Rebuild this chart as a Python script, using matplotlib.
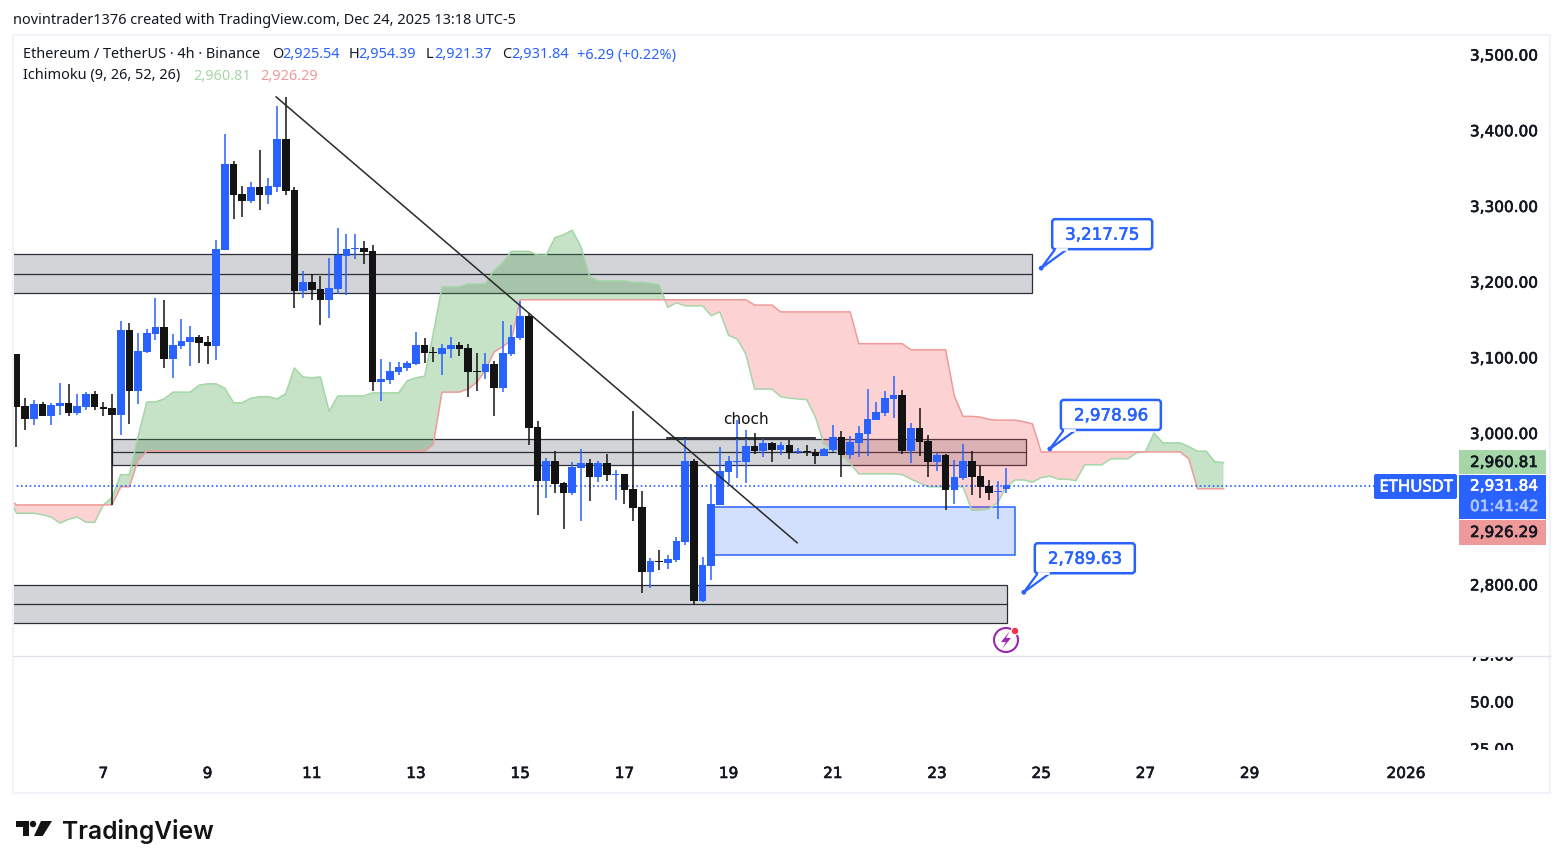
import numpy as np
import matplotlib
matplotlib.use("Agg")
import matplotlib.pyplot as plt
import matplotlib.patheffects as pe
from matplotlib.patches import Rectangle, FancyBboxPatch, Polygon, Circle
from matplotlib.ticker import FixedLocator, FuncFormatter

W, H = 1563, 868
BLUE = "#2962ff"
BLACK = "#131313"
TEXT = "#131722"

# candles, 4h bars
opens = [3104,3036,3019,3038,3023,3036,3040,3027,3035,3052,3034,3033,3024,3136,3056,3107,3131,3140,3098,3115,
         3120,3127,3120,3115,3242,3355,3316,3307,3325,3315,3325,3388,3321,3188,3200,3190,3176,3190,3234,3243,
         3244,3240,3067,3070,3081,3086,3091,3116,3107,3104,3111,3116,3112,3082,3081,3091,3060,3104,3125,3155,
         3008,2937,2963,2934,2921,2954,2960,2942,2960,2945,2946,2926,2902,2816,2831,2828,2832,2856,2963,2778,
         2824,2905,2948,2962,2962,2983,2976,2987,2978,2984,2975,2976,2975,2970,2978,2995,2971,2987,2999,3017,
         3026,3045,3050,2976,3007,2989,2962,2971,2925,2941,2963,2943,2930,2922,2925.54]
highs = [3105,3046,3044,3041,3039,3066,3065,3052,3054,3056,3041,3052,3148,3145,3132,3137,3178,3176,3131,3151,
         3141,3130,3128,3255,3395,3359,3326,3332,3374,3337,3432,3444,3325,3214,3210,3207,3231,3271,3263,3263,
         3254,3248,3098,3094,3094,3095,3133,3125,3114,3118,3127,3120,3118,3106,3106,3095,3148,3143,3174,3157,
         3016,2967,2976,2935,2962,2979,2966,2963,2972,2951,2946,3029,2923,2835,2846,2839,2863,2995,2966,2836,
         2933,2982,2970,3017,3004,3000,2992,2988,2988,2991,2980,2984,2979,2980,3011,3003,2996,3009,3058,3041,
         3055,3075,3057,3013,3033,2997,2974,2972,2964,2985,2976,2956,2938,2937,2954.39]
lows = [2981,3004,3011,3023,3011,3024,3023,3024,3030,3030,3022,2905,2997,3012,3038,3106,3123,3086,3073,3111,
        3089,3093,3091,3097,3242,3283,3285,3304,3295,3303,3318,3314,3165,3178,3176,3143,3152,3184,3182,3230,
        3223,3056,3042,3065,3077,3082,3090,3092,3094,3077,3099,3102,3048,3056,3071,3023,3054,3102,3123,2984,
        2892,2914,2921,2873,2918,2884,2910,2935,2937,2912,2906,2884,2789,2795,2819,2820,2830,2852,2773,2777,
        2806,2905,2934,2941,2934,2972,2968,2962,2971,2966,2972,2970,2959,2970,2975,2942,2966,2968,2970,3017,
        3022,3020,2972,2960,2970,2942,2950,2898,2906,2938,2918,2914,2911,2886,2921.37]
closes = [3035,3019,3038,3023,3037,3040,3027,3036,3052,3034,3032,3024,3136,3056,3108,3132,3140,3098,3116,3122,
          3127,3119,3115,3243,3355,3315,3307,3325,3315,3326,3388,3320,3188,3200,3189,3176,3192,3235,3243,3244,
          3239,3067,3071,3082,3087,3092,3116,3106,3106,3112,3116,3111,3081,3081,3091,3060,3106,3127,3155,3007,
          2937,2963,2933,2921,2955,2960,2942,2960,2945,2946,2925,2901,2816,2831,2829,2834,2857,2963,2778,2826,
          2906,2950,2963,2963,2983,2976,2987,2978,2984,2974,2976,2975,2970,2979,2995,2971,2988,3000,3018,3028,
          3046,3050,2976,3007,2988,2962,2971,2925,2942,2963,2942,2929,2921,2923,2931.84]

# ichimoku leading spans, bar -1 to bar 139
span_a = [2917,2894,2894,2894,2892,2889,2881,2886,2889,2882,
          2882,2905,2915,2945,2945,2995,3041,3041,3045,3054,
          3054,3054,3063,3065,3065,3059,3040,3040,3046,3048,
          3048,3045,3052,3086,3074,3073,3074,3029,3049,3049,
          3049,3049,3053,3053,3053,3053,3069,3073,3075,3132,
          3193,3193,3193,3197,3197,3197,3215,3225,3240,3240,
          3240,3235,3235,3258,3262,3268,3246,3207,3201,3201,
          3201,3201,3199,3199,3198,3196,3166,3172,3168,3168,
          3168,3155,3160,3129,3124,3104,3058,3058,3058,3048,
          3046,3045,3044,3021,2985,2979,2971,2960,2946,2946,
          2946,2946,2946,2945,2939,2934,2929,2929,2929,2929,
          2929,2898,2898,2900,2908,2929,2938,2938,2935,2941,
          2943,2939,2939,2937,2958,2958,2958,2966,2966,2966,
          2974,2975,3000,2987,2987,2987,2982,2976,2976,2962,
          2960.81]
span_b = [2914,2905,2905,2905,2905,2905,2905,2905,2905,2905,
          2905,2905,2905,2929,2929,2964,2976,2976,2976,2976,
          2976,2976,2976,2976,2976,2976,2976,2976,2976,2976,
          2976,2976,2976,2976,2976,2976,2976,2976,2976,2976,
          2976,2976,2976,2976,2976,2976,2976,2976,2976,2985,
          3054,3054,3054,3058,3067,3083,3107,3114,3123,3176,
          3176,3176,3176,3176,3176,3176,3176,3176,3176,3176,
          3176,3176,3176,3176,3176,3176,3176,3176,3176,3176,
          3176,3176,3176,3176,3176,3176,3169,3169,3169,3160,
          3160,3160,3160,3160,3160,3160,3160,3160,3118,3118,
          3118,3118,3118,3118,3110,3110,3110,3110,3110,3049,
          3022,3022,3021,3018,3017,3017,3017,3015,3012,2975,
          2975,2975,2975,2975,2975,2975,2975,2975,2975,2975,
          2975,2975,2975,2975,2975,2975,2966,2926.29,2926.29,2926.29,
          2926.29]

# drawings on the chart
zone_tops = [3236, 2992, 2799]
zone_mids = [3210, 2975, 2774]
zone_bots = [3185, 2958, 2749]
zone_starts = [-2, 11, -2]
zone_ends = [117, 116.2, 114.1]
demand_top, demand_bot = 2902, 2839
demand_start, demand_end = 80.3, 115
trend_bars = [29.9, 89.9]
trend_prices = [3444, 2855]
choch_bars = [74.9, 92]
choch_price = 2993

callout_bars = [118, 119, 116]
callout_prices = [3217.75, 2978.96, 2789.63]

price_ticks = [2800, 3000, 3100, 3200, 3300, 3400, 3500]
pane_ticks = [75, 50, 25]
day_bars = [10, 22, 34, 46, 58, 70, 82, 94, 106, 118, 130, 142, 160]
day_labels = ["7", "9", "11", "13", "15", "17", "19", "21", "23", "25", "27", "29", "2026"]

last_price = closes[-1]
# where the dotted last price line sits on the picture's scale
last_line_level = 2929.5

fig = plt.figure(figsize=(W / 100, H / 100), dpi=100, facecolor="white")


def box(x0, y0, x1, y1):
    return [x0 / W, 1 - y1 / H, (x1 - x0) / W, (y1 - y0) / H]


def heavy(t, color=TEXT):
    # scale labels on the reference are a touch heavier than regular weight
    t.set_path_effects([pe.withStroke(linewidth=0.45, foreground=color)])
    return t


ax = fig.add_axes(box(13, 35, 1458, 656))
ax.set_xlim(-0.403, 166.0)
ax.set_ylim(2705.4, 3525.8)
for s in ax.spines.values():
    s.set_visible(False)
ax.set_xticks([])
ax.yaxis.tick_right()
ax.yaxis.set_major_locator(FixedLocator(price_ticks))
ax.yaxis.set_major_formatter(FuncFormatter(lambda v, p: f"{v:,.2f}"))
ax.tick_params(axis="y", length=0, pad=8.6, labelsize=11, labelcolor=TEXT)
for lab in ax.get_yticklabels():
    heavy(lab)

# zones
for top, mid, bot, x0, x1 in zip(zone_tops, zone_mids, zone_bots, zone_starts, zone_ends):
    ax.add_patch(Rectangle((x0, bot), x1 - x0, top - bot, facecolor="#d3d4d7", edgecolor="#2a2e39", lw=0.9, zorder=1))
    ax.plot([x0, x1], [mid, mid], color="#2a2e39", lw=0.9, zorder=1.1)
ax.add_patch(Rectangle((demand_start, demand_bot), demand_end - demand_start, demand_top - demand_bot,
                       facecolor="#d2dffd", edgecolor=BLUE, lw=1.1, zorder=1))

# cloud
cloud_bars = np.arange(-1, 140)
a = np.array(span_a)
b = np.array(span_b)
ax.fill_between(cloud_bars, a, b, where=a >= b, interpolate=True, color="#43a047", alpha=0.3, lw=0, zorder=2)
ax.fill_between(cloud_bars, a, b, where=a < b, interpolate=True, color="#f44c4c", alpha=0.25, lw=0, zorder=2)
ax.plot(cloud_bars, a, color="#a5d6a7", lw=1.1, zorder=2.2)
ax.plot(cloud_bars, b, color="#ef9a9a", lw=1.1, zorder=2.2)

ax.plot([-1, 166], [last_line_level, last_line_level], color=BLUE, lw=1.2, ls=(0, (1, 1.6)), zorder=3)

# candles
o = np.array(opens)
c = np.array(closes)
bars = np.arange(len(o))
colors = [BLUE if cl >= op else BLACK for op, cl in zip(o, c)]
wicks = ax.vlines(bars, lows, highs, colors=colors, lw=1.1, zorder=4)
wicks.set_snap(True)
ax.bar(bars, np.maximum(np.abs(c - o), 1.3), bottom=np.minimum(o, c), width=0.88, color=colors, lw=0, zorder=5)

ax.plot(trend_bars, trend_prices, color="#2a2a2a", lw=1.1, zorder=6)
ax.plot(choch_bars, [choch_price, choch_price], color=BLACK, lw=1.2, zorder=6)
ax.text(84, 3018, "choch", ha="center", va="center", fontsize=11, color=BLACK, zorder=7)

# lower pane
ax2 = fig.add_axes(box(13, 656, 1550, 750))
ax2.set_xlim(-0.403, 176.6)
ax2.set_ylim(25, 75)
for s in ax2.spines.values():
    s.set_visible(False)
ax2.patch.set_alpha(0)
ax2.set_yticks([])
ax2.set_xticks(day_bars)
ax2.set_xticklabels(day_labels)
ax2.tick_params(axis="x", length=0, pad=11.5, labelsize=11, labelcolor=TEXT)
for lab in ax2.get_xticklabels():
    heavy(lab)
for v in pane_ticks:
    heavy(ax2.text(167.4, v, f"{v:.2f}", ha="left", va="center", fontsize=11, color=TEXT, clip_on=True))

# overlay in pixels for the chart frame and the price tags
ov = fig.add_axes([0, 0, 1, 1], zorder=10)
ov.set_xlim(0, W)
ov.set_ylim(H, 0)
ov.axis("off")

ov.add_patch(Rectangle((12.5, 34.5), 1537.5, 758.5, fill=False, edgecolor="#f0f3fa", lw=1.5))
ov.plot([13, 1550], [656, 656], color="#e0e3eb", lw=1)

sans = "Noto Sans"
fs = 10.45
ov.text(13, 20, "novintrader1376 created with TradingView.com, Dec 24, 2025 13:18 UTC-5",
        fontsize=fs, family=sans, color=TEXT, va="center")
ov.text(23, 55, "Ethereum / TetherUS · 4h · Binance", fontsize=fs, family=sans, color=TEXT, va="center")
for letter, lx, val, vx in [("O", 272, "2,925.54", 282), ("H", 349, "2,954.39", 358),
                            ("L", 426, "2,921.37", 434), ("C", 502, "2,931.84", 511)]:
    ov.text(lx, 55, letter, fontsize=fs, family=sans, color=TEXT, va="center")
    ov.text(vx, 55, val, fontsize=fs, family=sans, color=BLUE, va="center")
ov.text(577, 55, "+6.29 (+0.22%)", fontsize=fs, family=sans, color=BLUE, va="center")
ov.text(23, 76, "Ichimoku (9, 26, 52, 26)", fontsize=fs, family=sans, color=TEXT, va="center")
ov.text(193, 76, f"{span_a[-1]:,.2f}", fontsize=fs, family=sans, color="#a5d6a7", va="center")
ov.text(260, 76, f"{span_b[-1]:,.2f}", fontsize=fs, family=sans, color="#ef9a9a", va="center")

# tags on the price scale
ov.add_patch(Rectangle((1459, 450), 87, 24, facecolor="#a5d6a7", lw=0))
ov.add_patch(Rectangle((1459, 474.5), 87, 44, facecolor=BLUE, lw=0))
ov.add_patch(Rectangle((1459, 520), 87, 25, facecolor="#ef9a9a", lw=0))
ov.add_patch(FancyBboxPatch((1376, 476), 79, 21, boxstyle="round,pad=2,rounding_size=2", facecolor=BLUE, lw=0))
heavy(ov.text(1470, 462.5, f"{span_a[-1]:,.2f}", fontsize=11, color=TEXT, va="center"))
heavy(ov.text(1470, 486, f"{last_price:,.2f}", fontsize=11, color="white", va="center"), "white")
heavy(ov.text(1470, 506.5, "01:41:42", fontsize=11, color="#b4c9ff", va="center"), "#b4c9ff")
heavy(ov.text(1470, 532.5, f"{span_b[-1]:,.2f}", fontsize=11, color=TEXT, va="center"))
heavy(ov.text(1416, 487.5, "ETHUSDT", fontsize=12, family=sans, color="white", va="center", ha="center"), "white")

# price callouts, placed from their bar and price
for bar, price in zip(callout_bars, callout_prices):
    px, py = ax.transData.transform((bar, price))
    py = H - py
    ov.add_patch(FancyBboxPatch((px + 13, py - 47), 96, 26, boxstyle="round,pad=2,rounding_size=3",
                                facecolor="white", edgecolor=BLUE, lw=1.8))
    ov.add_patch(Polygon([(px + 14, py - 19), (px, py), (px + 26, py - 19)], closed=False,
                         facecolor="white", edgecolor=BLUE, lw=1.6))
    ov.plot([px + 15.5, px + 24.5], [py - 19, py - 19], color="white", lw=1.9)
    ov.add_patch(Circle((px, py), 2.4, facecolor=BLUE, lw=0))
    heavy(ov.text(px + 61, py - 33.5, f"{price:,.2f}", fontsize=12, color=BLUE, ha="center", va="center"), BLUE)

# alert icon
ov.add_patch(Circle((1006, 640), 12, fill=False, edgecolor="#9c27b0", lw=1.5))
ov.add_patch(Polygon([(1010, 631), (1001, 642), (1006, 642), (1002, 649), (1011, 638), (1006, 638)],
                     closed=True, facecolor="#9c27b0", lw=0))
ov.add_patch(Circle((1015, 631), 3.8, facecolor="#f23645", edgecolor="white", lw=0.8))

# logo
ov.add_patch(Polygon([(16, 821), (29, 821), (29, 836), (22.6, 836), (22.6, 827.3), (16, 827.3)],
                     closed=True, facecolor=BLACK, lw=0))
ov.add_patch(Circle((33, 824), 3.2, facecolor=BLACK, lw=0))
ov.add_patch(Polygon([(41, 821), (52, 821), (42.7, 836), (34, 836)], closed=True, facecolor=BLACK, lw=0))
ov.text(62, 831, "TradingView", fontsize=17.7, family="Inter", fontweight="semibold", color=BLACK, va="center")

fig.savefig("out.png", dpi=100)
